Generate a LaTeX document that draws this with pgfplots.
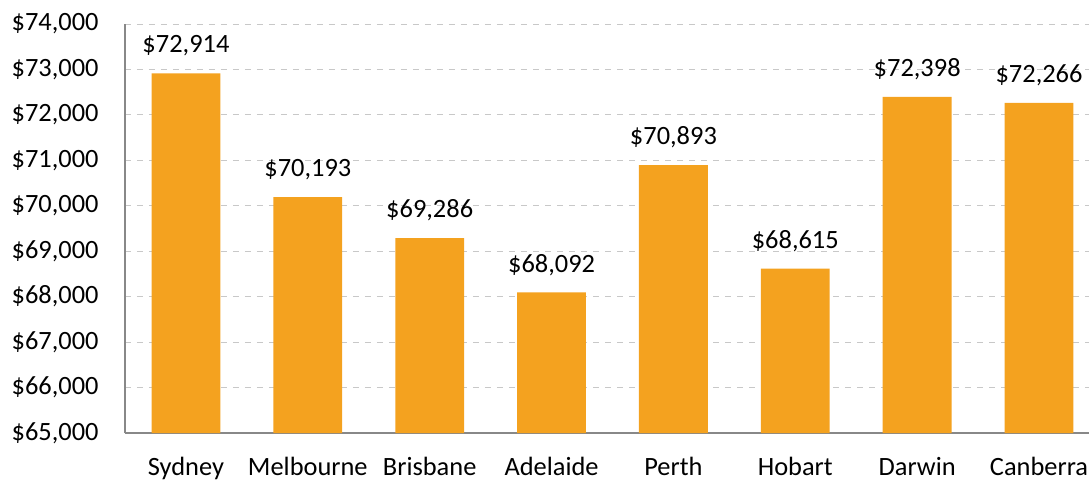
\documentclass[border=0pt]{standalone}
\usepackage{pgfplots}
\pgfplotsset{compat=1.18}
\usepackage{fontspec}
\setmainfont{Carlito}
\definecolor{barorange}{HTML}{F4A21F}
\definecolor{axgray}{HTML}{888888}
\definecolor{gridgray}{HTML}{C8C8C8}
\begin{document}
\begin{tikzpicture}
\begin{axis}[
  width=482pt, height=204.5pt, scale only axis,
  ymin=65000, ymax=74000,
  ytick={65000,66000,...,74000},
  scaled y ticks=false,
  xmin=-0.5, xmax=7.41,
  xtick=data,
  xticklabels={Sydney,Melbourne,Brisbane,Adelaide,Perth,Hobart,Darwin,Canberra},
  axis x line*=bottom, axis y line*=left,
  axis line style={axgray, line width=1pt},
  tick style={draw=none},
  ymajorgrids, grid style={gridgray, dashed, line width=0.5pt},
  yticklabel={\$\pgfmathprintnumber{\tick}},
  /pgf/number format/.cd, fixed, 1000 sep={,}, assume math mode=true,
  /pgfplots/.cd,
  yticklabel style={font=\fontsize{13.2}{15}\selectfont, text=black, xshift=-9.7pt},
  xticklabel style={font=\fontsize{13.2}{15}\selectfont, text=black, yshift=-4.5pt},
  ybar, bar width=0.565, bar shift=0pt,
  nodes near coords={\$\pgfmathprintnumber{\pgfplotspointmeta}},
  nodes near coords style={font=\fontsize{13.2}{15}\selectfont, text=black, yshift=5pt},
  clip=false,
]
\addplot[fill=barorange, draw=none] coordinates {
 (0,72914) (1,70193) (2,69286) (3,68092) (4,70893) (5,68615) (6,72398) (7,72266)};
\end{axis}
\pgfresetboundingbox
\path[use as bounding box] ([xshift=-62.5pt, yshift=-24.5pt]current axis.south west) rectangle ([yshift=12pt]current axis.north east);
\end{tikzpicture}
\end{document}
